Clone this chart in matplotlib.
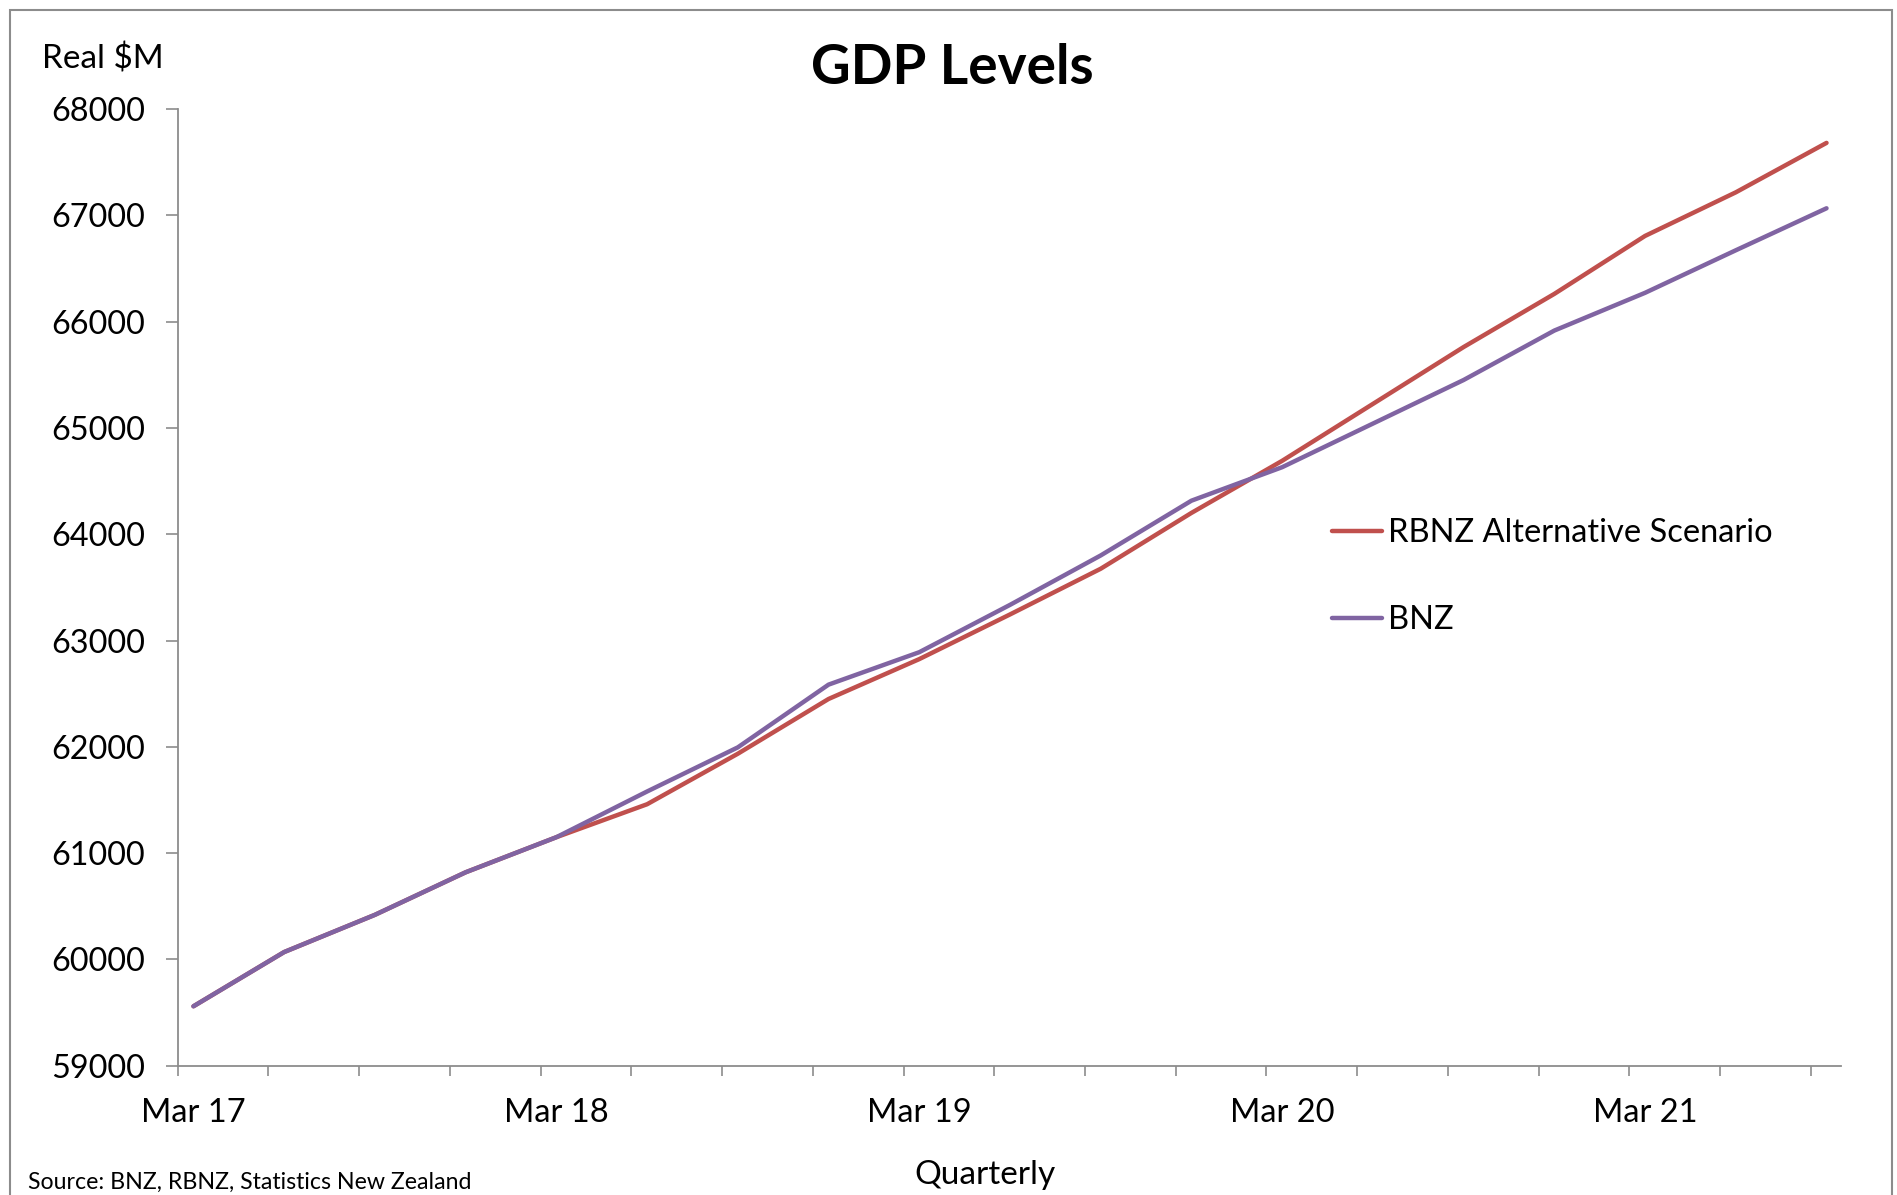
import matplotlib
matplotlib.use("Agg")
import matplotlib.pyplot as plt
from matplotlib.patches import Rectangle

plt.rcParams['font.family'] = ['Lato', 'DejaVu Sans']

quarters = ["Mar 17", "Jun 17", "Sep 17", "Dec 17",
            "Mar 18", "Jun 18", "Sep 18", "Dec 18",
            "Mar 19", "Jun 19", "Sep 19", "Dec 19",
            "Mar 20", "Jun 20", "Sep 20", "Dec 20",
            "Mar 21", "Jun 21", "Sep 21"]

rbnz = [59560, 60070, 60420, 60820, 61150, 61460, 61935, 62450, 62825, 63245,
        63675, 64200, 64690, 65225, 65760, 66260, 66805, 67215, 67680]
bnz = [59560, 60070, 60420, 60820, 61150, 61580, 61995, 62585, 62890, 63335,
       63800, 64315, 64630, 65040, 65450, 65915, 66270, 66670, 67065]

yticks = [59000, 60000, 61000, 62000, 63000, 64000, 65000, 66000, 67000, 68000]

red = '#C0504D'
purple = '#8064A2'
axis_grey = '#8C8C8C'

fig = plt.figure(figsize=(18.97, 11.95), dpi=100)
ax = fig.add_axes([0.0937, 0.1081, 0.8768, 0.8008])

x = list(range(len(quarters)))
ax.plot(x, rbnz, color=red, lw=3.2, label='RBNZ Alternative Scenario', solid_capstyle='round')
ax.plot(x, bnz, color=purple, lw=3.2, label='BNZ', solid_capstyle='round')

shift = 0.173
ax.set_xlim(-shift, len(quarters) - 1 + 0.16)
ax.set_ylim(59000, 68000)
ax.set_yticks(yticks)
ax.set_yticklabels([str(v) for v in yticks])

# labels sit on the March points, tick marks sit a little to the left
mar = [i for i, q in enumerate(quarters) if q.startswith("Mar")]
ax.set_xticks(mar)
ax.set_xticklabels([quarters[i] for i in mar])
ax.set_xticks([i - shift for i in x], minor=True)

for s in ['top', 'right']:
    ax.spines[s].set_visible(False)
for s in ['left', 'bottom']:
    ax.spines[s].set_color(axis_grey)
    ax.spines[s].set_linewidth(1.3)

ax.tick_params(axis='y', length=8.5, width=1.2, color=axis_grey, pad=15, labelsize=23.3)
ax.tick_params(axis='x', which='major', length=0, pad=23, labelsize=23.5)
ax.tick_params(axis='x', which='minor', length=7, width=1.2, color=axis_grey)

fig.text(0.502, 0.943, 'GDP Levels', ha='center', va='center', fontsize=39.5, fontweight='bold')
fig.text(0.022, 0.951, 'Real $M', ha='left', va='center', fontsize=24)
fig.text(0.519, 0.0165, 'Quarterly', ha='center', va='center', fontsize=24)
fig.text(0.015, 0.011, 'Source: BNZ, RBNZ, Statistics New Zealand', ha='left', va='center', fontsize=16.7)

ax.legend(loc='center left', bbox_to_anchor=(0.676, 0.511), frameon=False, fontsize=23.5,
          handlelength=1.55, handletextpad=0.18, labelspacing=1.75)

fig.patches.append(Rectangle((10 / 1897, -0.05), 1882 / 1897, 1.05 - 10 / 1195,
                             transform=fig.transFigure, fill=False,
                             edgecolor=axis_grey, lw=1.5))

fig.savefig('out.png', dpi=100)
